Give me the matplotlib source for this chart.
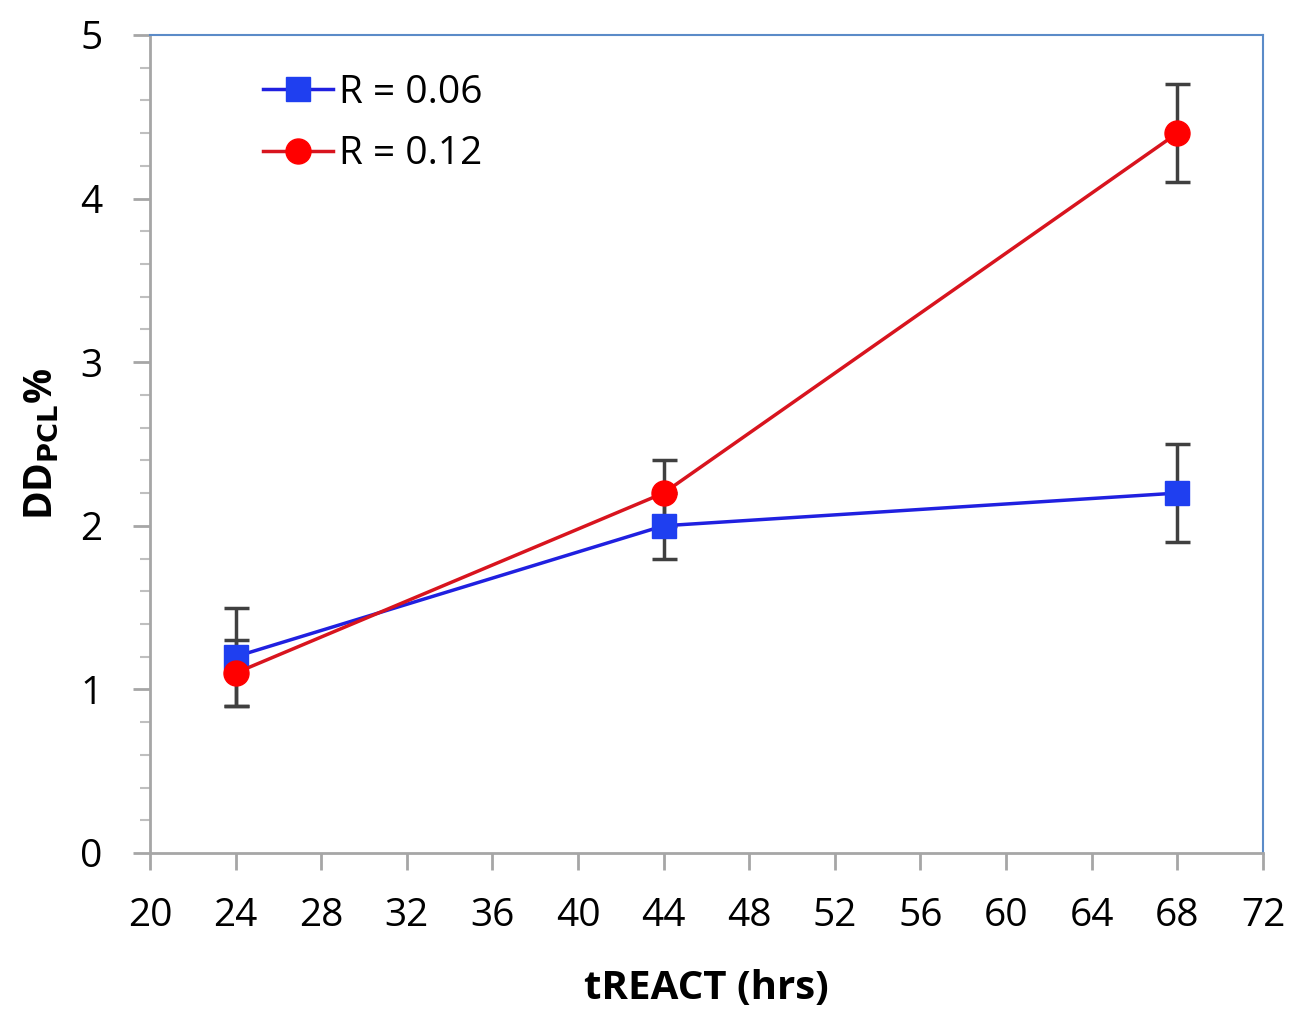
import matplotlib
matplotlib.use("Agg")
import matplotlib.pyplot as plt
from matplotlib.ticker import MultipleLocator

plt.rcParams["font.family"] = ["Open Sans", "DejaVu Sans"]

hours = [24, 44, 68]
dd_r006 = [1.2, 2.0, 2.2]
err_r006 = [0.3, 0.2, 0.3]
dd_r012 = [1.1, 2.2, 4.4]
err_r012 = [0.2, 0.2, 0.3]

fig = plt.figure(figsize=(12.96, 10.11), dpi=100)
ax = fig.add_axes([0.1157, 0.1563, 0.8588, 0.8091])

ax.errorbar(hours, dd_r006, yerr=err_r006, fmt="none", ecolor="#404040",
            elinewidth=2.5, capsize=9, capthick=2.5, zorder=2)
ax.errorbar(hours, dd_r012, yerr=err_r012, fmt="none", ecolor="#404040",
            elinewidth=2.5, capsize=9, capthick=2.5, zorder=2)
ax.plot(hours, dd_r006, color="#2020E0", lw=2.5, marker="s", ms=17,
        mfc="#1F3FF0", mec="#1F3FF0", label="R = 0.06", zorder=3)
ax.plot(hours, dd_r012, color="#D8141E", lw=2.5, marker="o", ms=18,
        mfc="#FF0000", mec="#FF0000", label="R = 0.12", zorder=4)

ax.set_xlim(20, 72)
ax.set_ylim(0, 5)
ax.xaxis.set_major_locator(MultipleLocator(4))
ax.yaxis.set_major_locator(MultipleLocator(1))
ax.yaxis.set_minor_locator(MultipleLocator(0.2))

for side in ("left", "bottom"):
    ax.spines[side].set_color("#A6A6A6")
    ax.spines[side].set_linewidth(2)
for side in ("top", "right"):
    ax.spines[side].set_color("#5B8BC8")
    ax.spines[side].set_linewidth(1.5)

ax.tick_params(axis="both", which="major", direction="out", length=12,
               width=2, color="#A6A6A6", labelsize=28)
ax.tick_params(axis="x", which="major", pad=20)
ax.tick_params(axis="y", which="major", pad=22)
ax.tick_params(axis="y", which="minor", direction="out", length=7,
               width=1.5, color="#BFBFBF")

ax.set_xlabel("tREACT (hrs)", fontsize=29, fontweight="bold", labelpad=24)
ax.set_ylabel(r"DD$_{\mathbf{PCL}}$%", fontsize=28, fontweight="bold", labelpad=14)

ax.legend(loc="upper left", bbox_to_anchor=(0.07, 0.995), frameon=False,
          fontsize=28, handlelength=1.8, handletextpad=0.15, labelspacing=0.6)

fig.savefig("out.png", dpi=100)
